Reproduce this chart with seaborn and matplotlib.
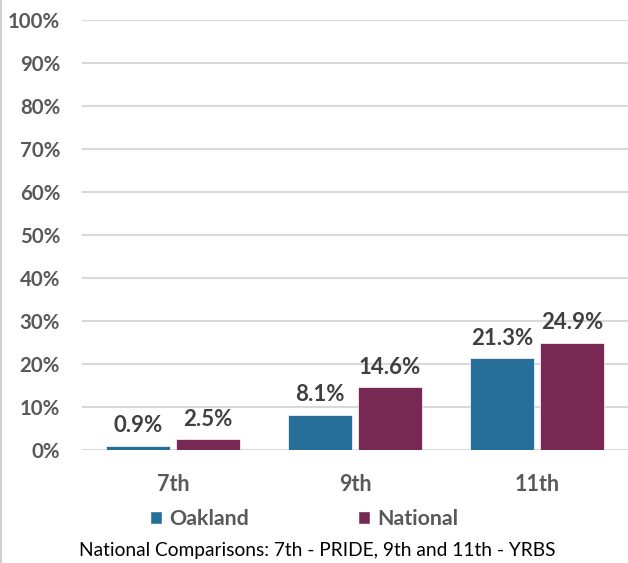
import pandas as pd
import matplotlib.pyplot as plt
import seaborn as sns
from matplotlib.lines import Line2D
from matplotlib.patches import Patch

# 数据
grades = ["7th", "9th", "11th"]
oakland = [0.9, 8.1, 21.3]
national = [2.5, 14.6, 24.9]
series_names = ["Oakland", "National"]
colors = ["#276E98", "#772953"]
footnote = "National Comparisons: 7th - PRIDE, 9th and 11th - YRBS"

df = pd.DataFrame({
    "Grade": grades * 2,
    "Value": oakland + national,
    "Group": [series_names[0]] * 3 + [series_names[1]] * 3,
})

sns.set_theme(style="white")
plt.rcParams["font.family"] = ["Lato", "DejaVu Sans"]

fig = plt.figure(figsize=(6.28, 5.63), dpi=100)
ax = fig.add_axes([0.131, 0.2007, 0.869, 0.7638])

sns.barplot(data=df, x="Grade", y="Value", hue="Group", order=grades,
            hue_order=series_names, palette=colors, saturation=1,
            width=0.77, gap=0.08, edgecolor="white", linewidth=0.5,
            legend=False, ax=ax)

ax.set_ylim(0, 100)
ax.set_xlim(-0.5, 2.5)
ax.set_yticks(range(0, 101, 10))
ax.set_yticklabels([f"{v}%" for v in range(0, 101, 10)])
ax.yaxis.grid(True, color="#D9D9D9", linewidth=1.5)
ax.set_axisbelow(True)
for s in ax.spines.values():
    s.set_visible(False)
ax.tick_params(axis="y", length=0, pad=16, labelsize=14.7, labelcolor="#595959")
ax.tick_params(axis="x", length=0, pad=17, labelsize=15.5, labelcolor="#595959")
for lbl in ax.get_xticklabels() + ax.get_yticklabels():
    lbl.set_fontweight("bold")
ax.set_xlabel("")
ax.set_ylabel("")

for cont in ax.containers:
    ax.bar_label(cont, labels=[f"{v:.1f}%" for v in cont.datavalues], padding=7,
                 fontsize=16, fontweight="bold", color="#404040")

handles = [Patch(facecolor=c) for c in colors]
leg = fig.legend(handles, series_names, loc="center", bbox_to_anchor=(0.484, 0.078),
                 ncol=2, frameon=False, handlelength=0.55, handleheight=0.55,
                 handletextpad=0.35, columnspacing=5.1, fontsize=15.4)
for t in leg.get_texts():
    t.set_color("#595959")
    t.set_fontweight("bold")

fig.text(0.505, 0.022, footnote, ha="center", va="center", fontsize=13.8, color="black")
fig.add_artist(Line2D([0.002, 0.002], [0, 1], color="#D0D0D0", linewidth=1.5,
                      transform=fig.transFigure))

fig.savefig("out.png", dpi=100)
